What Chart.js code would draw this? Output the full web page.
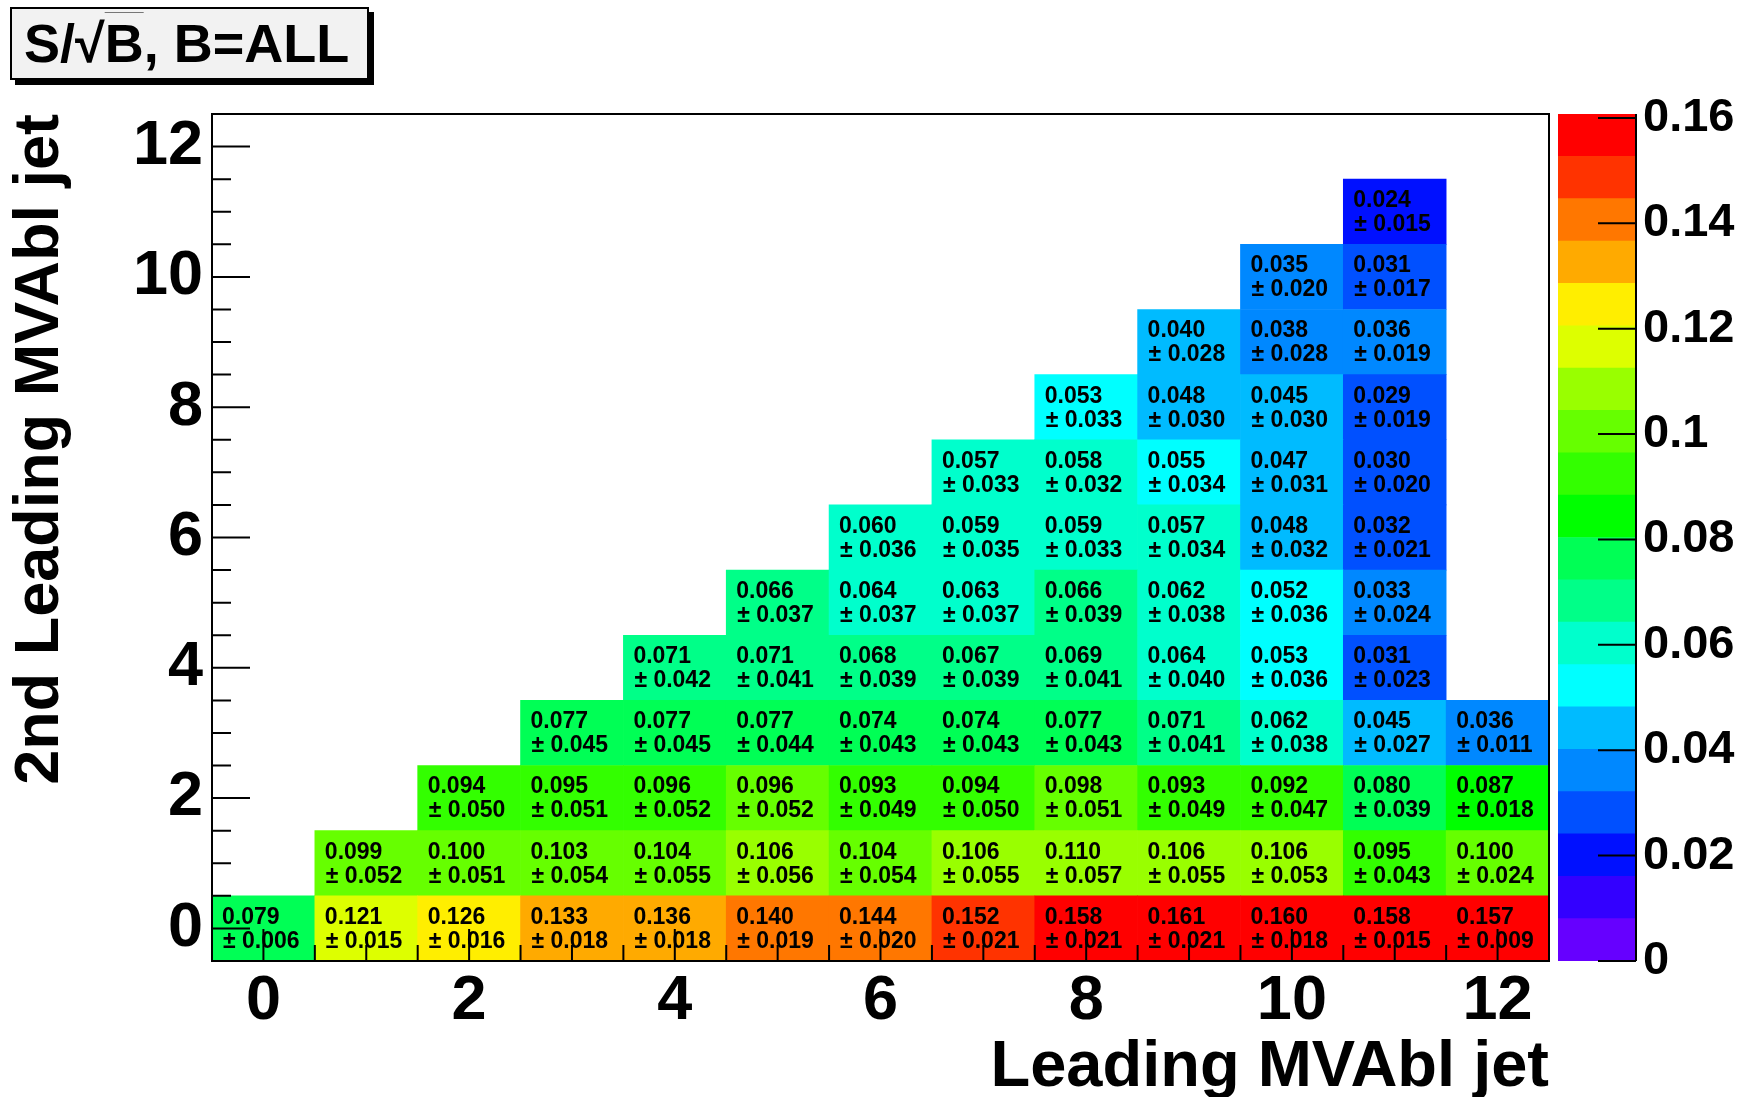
<!DOCTYPE html>
<html>
<head>
<meta charset="utf-8">
<title>S/sqrt(B), B=ALL</title>
<script src="https://cdn.jsdelivr.net/npm/chart.js@4.4.1/dist/chart.umd.min.js"></script>
<style>
    body { margin: 0; background: #fff; }
    #wrap { position: relative; width: 1739px; height: 1097px; overflow: hidden; }
    #mainChart { position: absolute; left: 0; top: 0; }
    #zChart { position: absolute; left: 1549px; top: 0; }
    #title {
        position: absolute; left: 10px; top: 7px; width: 343px; height: 69px;
        border: 2px solid #000; background: #f2f2f2; box-shadow: 5px 5px 0 #000;
        font: bold 54px "Liberation Sans", Arial, sans-serif; line-height: 69px;
        padding-left: 12px; box-sizing: content-box; white-space: nowrap; color: #000;
    }
    #title .ov { text-decoration: overline; text-decoration-thickness: 1px; text-decoration-color: #777; }
</style>
</head>
<body>
<div id="wrap">
    <canvas id="mainChart" width="1739" height="1097"></canvas>
    <canvas id="zChart" width="190" height="1097"></canvas>
    <div id="title">S/√<span class="ov">B</span>, B=ALL</div>
</div>
<script>
// Bins (leading jet on x, 2nd leading jet on y)
const xBins = [0, 1, 2, 3, 4, 5, 6, 7, 8, 9, 10, 11, 12];
const yBins = [0, 1, 2, 3, 4, 5, 6, 7, 8, 9, 10, 11];
const xTickValues = [0, 2, 4, 6, 8, 10, 12];
const yTickValues = [0, 2, 4, 6, 8, 10, 12];
const zTickValues = [0, 0.02, 0.04, 0.06, 0.08, 0.1, 0.12, 0.14, 0.16];

// S/sqrt(B) per row y, one value per x bin (null = empty bin)
const sigRows = [
    [0.079, 0.12052, 0.126, 0.133, 0.136, 0.140, 0.144, 0.152, 0.158, 0.161, 0.160, 0.158, 0.157],
    [null, 0.099, 0.100, 0.103, 0.104, 0.106, 0.104, 0.106, 0.110, 0.106, 0.106, 0.095, 0.100],
    [null, null, 0.094, 0.095, 0.096, 0.09647, 0.093, 0.094, 0.098, 0.093, 0.092, 0.080, 0.087],
    [null, null, null, 0.077, 0.077, 0.077, 0.074, 0.074, 0.077, 0.071, 0.062, 0.045, 0.036],
    [null, null, null, null, 0.071, 0.071, 0.068, 0.067, 0.069, 0.064, 0.053, 0.031, null],
    [null, null, null, null, null, 0.066, 0.064, 0.063, 0.066, 0.062, 0.052, 0.033, null],
    [null, null, null, null, null, null, 0.060, 0.059, 0.059, 0.057, 0.048, 0.032, null],
    [null, null, null, null, null, null, null, 0.057, 0.058, 0.055, 0.047, 0.030, null],
    [null, null, null, null, null, null, null, null, 0.053, 0.048, 0.045, 0.029, null],
    [null, null, null, null, null, null, null, null, null, 0.0403, 0.038, 0.036, null],
    [null, null, null, null, null, null, null, null, null, null, 0.035, 0.031, null],
    [null, null, null, null, null, null, null, null, null, null, null, 0.024, null]
];

// errors, same layout
const errRows = [
    [0.006, 0.015, 0.016, 0.018, 0.018, 0.019, 0.020, 0.021, 0.021, 0.021, 0.018, 0.015, 0.009],
    [null, 0.052, 0.051, 0.054, 0.055, 0.056, 0.054, 0.055, 0.057, 0.055, 0.053, 0.043, 0.024],
    [null, null, 0.050, 0.051, 0.052, 0.052, 0.049, 0.050, 0.051, 0.049, 0.047, 0.039, 0.018],
    [null, null, null, 0.045, 0.045, 0.044, 0.043, 0.043, 0.043, 0.041, 0.038, 0.027, 0.011],
    [null, null, null, null, 0.042, 0.041, 0.039, 0.039, 0.041, 0.040, 0.036, 0.023, null],
    [null, null, null, null, null, 0.037, 0.037, 0.037, 0.039, 0.038, 0.036, 0.024, null],
    [null, null, null, null, null, null, 0.036, 0.035, 0.033, 0.034, 0.032, 0.021, null],
    [null, null, null, null, null, null, null, 0.033, 0.032, 0.034, 0.031, 0.020, null],
    [null, null, null, null, null, null, null, null, 0.033, 0.030, 0.030, 0.019, null],
    [null, null, null, null, null, null, null, null, null, 0.028, 0.028, 0.019, null],
    [null, null, null, null, null, null, null, null, null, null, 0.020, 0.017, null],
    [null, null, null, null, null, null, null, null, null, null, null, 0.015, null]
];

// colour scale: 20 levels from 0 to zMax
const zMax = 0.16075;
const palette = [
    '#6600ff', '#3300ff', '#0010ff', '#0050ff', '#0088ff',
    '#00bbff', '#00ffff', '#00ffcc', '#00ff88', '#00ff55',
    '#00ff00', '#33ff00', '#66ff00', '#99ff00', '#ddff00',
    '#ffee00', '#ffaa00', '#ff7700', '#ff3300', '#ff0000'
];

const FONT = '"Liberation Sans", Arial, Helvetica, sans-serif';
const levelWidth = zMax / palette.length;

function colorFor(v) {
    let i = Math.floor(v / levelWidth);
    if (i < 0) i = 0;
    if (i >= palette.length) i = palette.length - 1;
    return palette[i];
}

// one floating-bar dataset per y row
const cellDatasets = yBins.map(y => ({
    label: 'y=' + y,
    data: xBins.filter(x => sigRows[y][x] !== null).map(x => ({
        x: x,
        y: [y - 0.5, y + 0.5],
        s: sigRows[y][x],
        e: errRows[y][x]
    })),
    backgroundColor: ctx => colorFor(ctx.raw.s),
    borderWidth: 0,
    grouped: false,
    barPercentage: 1,
    categoryPercentage: 1
}));

// texte des cellules
const cellText = {
    id: 'cellText',
    afterDatasetsDraw(chart) {
        const ctx = chart.ctx;
        ctx.save();
        ctx.fillStyle = '#000';
        ctx.font = 'bold 23px ' + FONT;
        ctx.textAlign = 'left';
        ctx.textBaseline = 'middle';
        chart.data.datasets.forEach((ds, i) => {
            chart.getDatasetMeta(i).data.forEach((bar, j) => {
                const p = ds.data[j];
                const left = bar.x - bar.width / 2 + 10;
                const cy = (bar.y + bar.base) / 2;
                ctx.fillText(p.s.toFixed(3), left, cy - 11);
                ctx.fillText('\u00B1 ' + p.e.toFixed(3), left + 1, cy + 13);
            });
        });
        ctx.restore();
    }
};

// frame + inward ticks (ROOT style)
const frameTicks = {
    id: 'frameTicks',
    afterDatasetsDraw(chart) {
        const { ctx, chartArea: a, scales } = chart;
        ctx.save();
        ctx.strokeStyle = '#000';
        ctx.lineWidth = 2;
        ctx.strokeRect(a.left, a.top, a.right - a.left, a.bottom - a.top);
        ctx.beginPath();
        for (let k = -1; k <= 25; k++) {
            const v = k / 2;
            const major = k % 4 === 0;
            const px = scales.x.getPixelForValue(v);
            ctx.moveTo(px, a.bottom);
            ctx.lineTo(px, a.bottom - (major ? 32 : 16));
            const py = scales.y.getPixelForValue(v);
            ctx.moveTo(a.left, py);
            ctx.lineTo(a.left + (major ? 38 : 19), py);
        }
        ctx.stroke();
        ctx.restore();
    }
};

new Chart(document.getElementById('mainChart'), {
    type: 'bar',
    data: { datasets: cellDatasets },
    options: {
        responsive: false,
        animation: false,
        layout: { padding: { left: 0, top: 114, right: 190, bottom: 0 } },
        plugins: { legend: { display: false }, tooltip: { enabled: false } },
        scales: {
            x: {
                type: 'linear',
                min: -0.5,
                max: 12.5,
                offset: false,
                grid: { display: false, drawTicks: false },
                border: { display: false },
                afterBuildTicks: axis => { axis.ticks = xTickValues.map(v => ({ value: v })); },
                afterFit: axis => { axis.height = 136; },
                ticks: {
                    autoSkip: false,
                    maxRotation: 0,
                    padding: 3,
                    color: '#000',
                    font: { family: FONT, size: 63, weight: 'bold' },
                    callback: v => String(v)
                },
                title: {
                    display: true,
                    text: 'Leading MVAbl jet',
                    align: 'end',
                    color: '#000',
                    font: { family: FONT, size: 65, weight: 'bold', lineHeight: 0.9 },
                    padding: { top: 0, bottom: 0 }
                }
            },
            y: {
                type: 'linear',
                min: -0.5,
                max: 12.5,
                grid: { display: false, drawTicks: false },
                border: { display: false },
                afterBuildTicks: axis => { axis.ticks = yTickValues.map(v => ({ value: v })); },
                afterFit: axis => { axis.width = 212; },
                ticks: {
                    autoSkip: false,
                    padding: 9,
                    color: '#000',
                    font: { family: FONT, size: 63, weight: 'bold' },
                    callback: v => String(v)
                },
                title: {
                    display: true,
                    text: '2nd Leading MVAbl jet',
                    align: 'end',
                    color: '#000',
                    font: { family: FONT, size: 63, weight: 'bold', lineHeight: 1 },
                    padding: { top: 9, bottom: 0 }
                }
            }
        }
    },
    plugins: [cellText, frameTicks]
});

// palette axis
const zTicks = {
    id: 'zTicks',
    afterDatasetsDraw(chart) {
        const { ctx, chartArea: a, scales } = chart;
        ctx.save();
        ctx.strokeStyle = '#000';
        ctx.lineWidth = 2;
        ctx.beginPath();
        ctx.moveTo(a.right, a.top);
        ctx.lineTo(a.right, a.bottom);
        zTickValues.forEach(v => {
            const py = scales.y.getPixelForValue(v);
            ctx.moveTo(a.right, py);
            ctx.lineTo(a.right - 38, py);
        });
        ctx.stroke();
        ctx.restore();
    }
};

new Chart(document.getElementById('zChart'), {
    type: 'bar',
    data: {
        labels: [''],
        datasets: palette.map((c, i) => ({
            data: [[i * levelWidth, (i + 1) * levelWidth]],
            backgroundColor: c,
            borderWidth: 0,
            grouped: false,
            barPercentage: 1,
            categoryPercentage: 1
        }))
    },
    options: {
        responsive: false,
        animation: false,
        layout: { padding: { left: 9, top: 114, right: 0, bottom: 136 } },
        plugins: { legend: { display: false }, tooltip: { enabled: false } },
        scales: {
            x: { display: false },
            y: {
                position: 'right',
                min: 0,
                max: zMax,
                grid: { display: false, drawTicks: false },
                border: { display: false },
                afterBuildTicks: axis => { axis.ticks = zTickValues.map(v => ({ value: v })); },
                afterFit: axis => { axis.width = 103; },
                ticks: {
                    autoSkip: false,
                    padding: 7,
                    color: '#000',
                    font: { family: FONT, size: 47, weight: 'bold' },
                    callback: v => String(parseFloat(v.toFixed(2)))
                }
            }
        }
    },
    plugins: [zTicks]
});
</script>
</body>
</html>
